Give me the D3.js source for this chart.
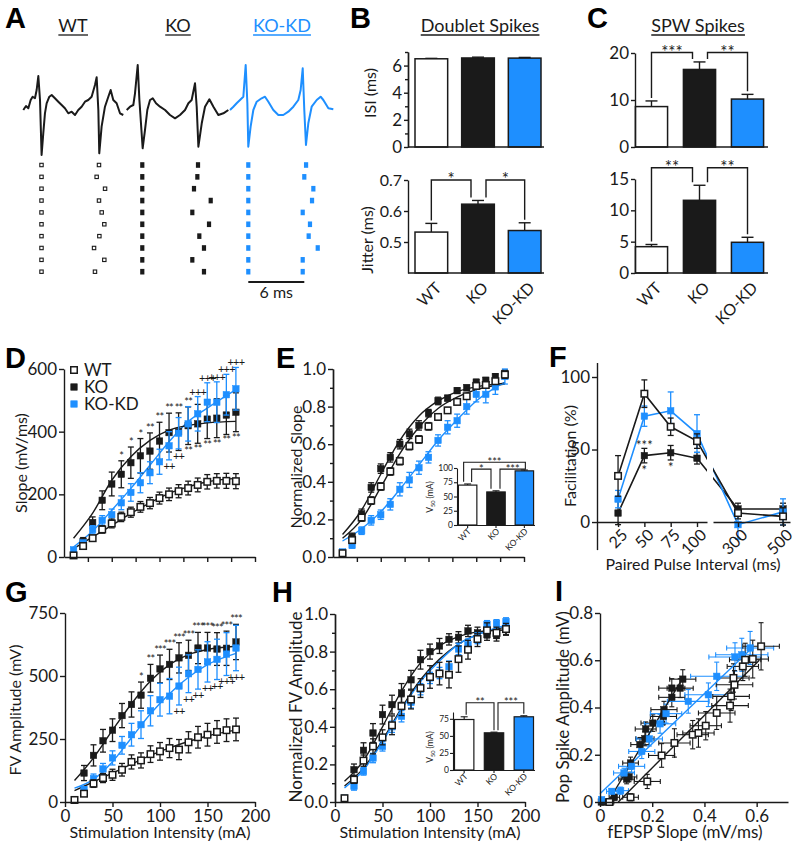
<!DOCTYPE html>
<html><head><meta charset="utf-8">
<script src="https://d3js.org/d3.v7.min.js"></script>
<style>html,body{margin:0;padding:0;background:#fff;}svg{display:block;}</style>
</head><body>
<script>
// ================= DATA =================
const groups = ["WT", "KO", "KO-KD"];

// Panel A: example traces (time ms, voltage a.u.)
const traceWTt = [0,0.29,0.54,0.79,1.0,1.25,1.43,1.61,1.79,1.96,2.14,2.32,2.5,2.79,3.04,3.39,3.75,4.11,4.46,4.82,5.18,5.54,5.89,6.25,6.61,6.96,7.32,7.68,7.86,8.04,8.14,8.39,8.75,9.11,9.36,9.64,10.0,10.36,10.71];
const traceWTv = [0,0.4,0.17,1.0,1.33,1.17,2.0,3.4,1.0,-4.5,-2.33,-0.33,0.67,1.33,1.5,1.17,0.83,0.5,0.17,-0.33,-0.17,-0.5,0,0.33,0.83,1.0,1.33,2.5,3.27,0,-4.33,-1.67,0.33,1.33,2.0,1.0,0.67,-0.33,-0.5];
const traceKOt = [0,0.36,0.71,0.89,1.18,1.36,1.71,1.96,2.21,2.5,2.79,3.14,3.57,4.11,4.64,5.18,5.71,6.25,6.61,6.96,7.32,7.5,7.68,8.04,8.39,8.86,9.29,9.82,10.36,10.89];
const traceKOv = [0,0.33,0.5,1.67,4.5,1.0,-3.83,-2.0,0,1.0,1.17,0.67,0.33,0,-0.5,-0.83,-0.5,0,0.67,1.0,2.67,0.33,-3.67,-1.33,0.33,1.07,0.33,-0.5,-0.33,0];
const traceKDt = [0,0.36,0.71,1.07,1.43,1.68,1.86,1.96,2.21,2.5,2.86,3.39,3.75,4.11,4.64,5.18,5.71,6.25,6.79,7.32,7.57,7.79,7.96,8.14,8.39,8.75,9.29,9.71,10.0,10.54,11.07];
const traceKDv = [0,0.33,0.67,1.0,1.33,4.5,0.67,-3.67,-1.67,0,0.83,1.17,1.33,0.83,0,-0.5,-0.5,-0.17,0.33,1.0,2.0,4.17,0,-3.5,-1.33,0.33,1.0,1.33,1.0,0.17,0.07];
const rasterRows = [1,2,3,4,5,6,7,8,9,10];
const rasterWTfirst = [1.95,1.95,1.95,1.95,1.95,1.95,1.95,1.95,1.95,1.95];
const rasterWTsecond = [8.11,7.86,8.76,8.11,8.4,8.68,8.15,7.58,8.68,7.68];
const rasterKOfirst = [1.67,1.67,1.67,1.67,1.67,1.67,1.67,1.67,1.67,1.67];
const rasterKOsecond = [7.64,7.57,7.21,9.0,7.03,8.82,7.78,8.28,7.03,8.28];
const rasterKDfirst = [1.96,1.96,1.96,1.96,1.96,1.96,1.96,1.96,1.96,1.96];
const rasterKDsecond = [8.15,7.96,8.93,8.79,7.79,8.57,8.43,9.4,7.79,7.79];
const scaleBarMs = 6;

// Panel B
const isiMean = [6.5, 6.56, 6.55];
const isiErr = [0.03, 0.06, 0.05];
const jitterMean = [0.532, 0.622, 0.537];
const jitterErr = [0.028, 0.012, 0.025];
const jitterSig = ["*", "*"];
// Panel C
const spwTopMean = [8.6, 16.5, 10.2];
const spwTopErr = [1.2, 1.6, 1.0];
const spwTopSig = ["***", "**"];
const spwBotMean = [4.2, 11.6, 4.9];
const spwBotErr = [0.35, 2.4, 0.8];
const spwBotSig = ["**", "**"];

// Stimulation series (D, E, G, H)
const stim = [10,20,30,40,50,60,70,80,90,100,110,120,130,140,150,160,170,180];
const fitStim = [10,30,50,70,90,110,130,150,180];

const slopeWT = [5,35,60,88,107,128,143,160,172,188,200,210,220,230,240,243,243,242];
const slopeWTerr = [5,8,10,12,14,15,16,17,18,19,20,21,22,22,23,23,24,24];
const slopeKO = [5,50,110,181,233,264,301,323,338,370,397,400,419,425,440,443,453,462];
const slopeKOerr = [4,12,18,30,38,43,50,55,58,60,62,60,60,62,62,62,62,62];
const slopeKD = [23,45,88,117,135,173,206,237,269,304,355,395,425,457,494,494,518,537];
const slopeKDerr = [6,8,12,15,18,22,28,32,35,40,45,50,55,55,62,65,65,68];
const fitSlopeWT = [27,64,101,139,173,203,224,240,251];
const fitSlopeKO = [60,140,245,320,372,405,420,428,433];
const fitSlopeKD = [32,83,149,219,293,368,432,475,534];
const sigSlopeTop = ["","","","","","*","*","*","**","**","**","**","**","+++","+++","+++","+++","+++"];
const sigSlopeBot = ["","","","","","","","","","","++","++","**","**","**","**","**","**"];

const normWT = [0.02,0.09,0.21,0.3,0.375,0.455,0.51,0.59,0.625,0.695,0.745,0.78,0.825,0.855,0.91,0.915,0.935,0.97];
const normWTerr = [0.01,0.015,0.02,0.02,0.02,0.02,0.02,0.02,0.02,0.02,0.015,0.015,0.015,0.015,0.015,0.015,0.015,0.02];
const normKO = [0.014,0.107,0.23,0.37,0.47,0.53,0.6,0.655,0.7,0.765,0.83,0.845,0.885,0.9,0.93,0.94,0.96,0.975];
const normKOerr = [0.01,0.02,0.025,0.025,0.025,0.025,0.025,0.025,0.025,0.02,0.02,0.015,0.015,0.015,0.015,0.015,0.015,0.02];
const normKD = [0.027,0.062,0.14,0.195,0.225,0.28,0.36,0.41,0.475,0.53,0.62,0.69,0.725,0.8,0.865,0.865,0.905,0.96];
const normKDerr = [0.01,0.015,0.02,0.025,0.025,0.03,0.035,0.04,0.035,0.03,0.03,0.035,0.035,0.04,0.04,0.045,0.04,0.04];
const fitNormWT = [0.10,0.20,0.37,0.55,0.69,0.79,0.85,0.89,0.92];
const fitNormKO = [0.12,0.25,0.44,0.62,0.75,0.83,0.88,0.905,0.925];
const fitNormKD = [0.085,0.15,0.24,0.36,0.49,0.62,0.73,0.83,0.93];
const v50SlopeMean = [70, 58, 95];
const v50SlopeErr = [2, 2, 1.5];

const fvWT = [8,33,73,95,108,128,159,165,190,201,214,208,237,257,267,278,285,288];
const fvWTerr = [5,10,15,18,22,25,28,30,33,35,38,40,42,43,45,45,45,45];
const fvKO = [10,115,185,243,285,343,387,424,491,528,546,572,582,611,611,607,610,635];
const fvKOerr = [5,30,42,45,45,48,50,52,55,55,60,60,60,62,62,65,68,70];
const fvKD = [9,49,93,131,175,225,267,307,362,406,420,460,509,526,556,566,587,611];
const fvKDerr = [5,12,18,22,28,35,45,55,60,65,70,75,75,78,80,80,85,90];
const fitFvWT = [45,80,115,150,185,215,240,262,285];
const fitFvKO = [85,175,285,390,480,545,585,605,618];
const fitFvKD = [55,90,160,255,350,430,495,545,590];
const sigFvTop = ["","","","","","","","*","**","***","***","***","***","***","***","***","***","***"];
const sigFvBot = ["","","","","","","","","","","","++","++","++","++","++","+++","+++"];

const nfvWT = [0.02,0.119,0.22,0.296,0.344,0.408,0.51,0.545,0.606,0.665,0.683,0.677,0.76,0.81,0.867,0.913,0.9,0.92];
const nfvWTerr = [0.01,0.02,0.03,0.04,0.04,0.05,0.05,0.05,0.05,0.06,0.06,0.07,0.07,0.05,0.04,0.04,0.03,0.03];
const nfvKO = [0.02,0.172,0.275,0.367,0.465,0.518,0.58,0.65,0.757,0.8,0.83,0.865,0.876,0.91,0.9,0.89,0.886,0.917];
const nfvKOerr = [0.01,0.03,0.04,0.05,0.05,0.05,0.05,0.05,0.05,0.04,0.04,0.03,0.03,0.03,0.03,0.03,0.03,0.03];
const nfvKD = [0.02,0.083,0.163,0.234,0.296,0.4,0.456,0.53,0.6,0.66,0.686,0.72,0.814,0.837,0.872,0.945,0.95,0.96];
const nfvKDerr = [0.01,0.02,0.02,0.025,0.025,0.03,0.03,0.03,0.03,0.03,0.03,0.03,0.03,0.03,0.03,0.02,0.02,0.02];
const fitNfvWT = [0.085,0.18,0.33,0.5,0.65,0.76,0.84,0.89,0.93];
const fitNfvKO = [0.11,0.22,0.40,0.59,0.74,0.83,0.88,0.905,0.915];
const fitNfvKD = [0.075,0.17,0.32,0.49,0.64,0.75,0.84,0.89,0.94];
const v50FvMean = [74, 54.5, 78];
const v50FvErr = [4, 1, 1.5];

// Panel F
const ppi = [25, 50, 75, 100, 300, 500];
const facWT = [31.8, 88.5, 65.7, 55.8, 6.2, 3.9];
const facWTerr = [14, 9.5, 6, 5, 4, 6];
const facKO = [6.2, 45.8, 47.8, 44, 9, 9];
const facKOerr = [8, 5, 5, 4, 4, 4];
const facKD = [15.8, 73, 76.7, 61, -1.8, 7];
const facKDerr = [6, 7, 13, 13, 10, 9];
const facSigX = [50, 50, 75];
const facSigText = ["***", "*", "*"];
const facSigSide = ["above", "below", "below"];

// Panel I
const ioKOx = [0.005,0.019,0.038,0.055,0.102,0.111,0.117,0.153,0.172,0.175,0.202,0.243,0.245,0.275,0.275,0.307,0.317];
const ioKOy = [0,0,0,0.02,0.097,0.106,0.165,0.243,0.268,0.309,0.334,0.362,0.391,0.443,0.482,0.482,0.52];
const ioKOxe = [0.01,0.01,0.015,0.02,0.03,0.03,0.03,0.035,0.035,0.04,0.045,0.05,0.05,0.05,0.05,0.05,0.05];
const ioKOye = [0.005,0.005,0.008,0.012,0.02,0.02,0.025,0.03,0.03,0.03,0.035,0.035,0.035,0.04,0.04,0.04,0.04];
const ioWTx = [0.036,0.117,0.181,0.236,0.285,0.355,0.377,0.405,0.447,0.498,0.502,0.515,0.511,0.547,0.556,0.585,0.617];
const ioWTy = [0,0.02,0.087,0.197,0.25,0.285,0.292,0.323,0.377,0.408,0.447,0.496,0.525,0.574,0.602,0.605,0.659];
const ioWTxe = [0.01,0.03,0.05,0.05,0.06,0.06,0.06,0.06,0.07,0.07,0.07,0.07,0.06,0.06,0.06,0.06,0.07];
const ioWTye = [0.005,0.015,0.03,0.05,0.06,0.06,0.06,0.06,0.07,0.07,0.06,0.06,0.06,0.06,0.07,0.08,0.1];
const ioKDx = [0.006,0.045,0.079,0.092,0.121,0.16,0.189,0.23,0.253,0.338,0.415,0.447,0.517,0.543,0.575];
const ioKDy = [0.01,0.045,0.048,0.123,0.151,0.214,0.267,0.331,0.374,0.426,0.454,0.532,0.614,0.623,0.652];
const ioKDxe = [0.01,0.02,0.03,0.04,0.05,0.05,0.05,0.06,0.06,0.08,0.09,0.1,0.1,0.1,0.09];
const ioKDye = [0.005,0.01,0.015,0.02,0.025,0.03,0.03,0.04,0.04,0.05,0.05,0.06,0.06,0.07,0.07];
const ioFitKOx = [0.03, 0.32]; const ioFitKOy = [0, 0.53];
const ioFitWTx = [0.07, 0.61]; const ioFitWTy = [0, 0.6];
const ioFitKDx = [0, 0.58];    const ioFitKDy = [0.035, 0.65];

// ================= DRAWING =================
const FONT = "Lato, 'Open Sans', 'DejaVu Sans', sans-serif";
const BOLD = "'Liberation Sans', Arial, sans-serif";
const INK = "#1a1a1a", BLUE = "#1e8fff";
const svg = d3.select("body").append("svg").attr("width", 800).attr("height", 847);
svg.append("rect").attr("width", 800).attr("height", 847).attr("fill", "#fff");

function txt(x, y, s, o = {}) {
  const t = svg.append("text").attr("x", x).attr("y", y)
    .attr("font-family", o.ff || FONT).attr("font-size", o.fs || 16)
    .attr("font-weight", o.fw || 400).attr("text-anchor", o.a || "middle")
    .attr("fill", o.fill || INK).text(s);
  if (o.ls !== undefined) t.attr("letter-spacing", o.ls);
  if (o.rot !== undefined) t.attr("transform", `rotate(${o.rot},${x},${y})`);
  return t;
}
function underline(t, y, color) {
  const bb = t.node().getBBox();
  svg.append("line").attr("x1", bb.x).attr("x2", bb.x + bb.width).attr("y1", y).attr("y2", y)
    .attr("stroke", color).attr("stroke-width", 1.3);
}
function sty(g, fs) {
  g.attr("font-family", FONT).attr("font-size", fs);
  g.select(".domain").attr("stroke", INK).attr("stroke-width", 1.4);
  g.selectAll(".tick line").attr("stroke", INK).attr("stroke-width", 1.4);
  g.selectAll(".tick text").attr("fill", INK);
  return g;
}
function axL(x0, sc, vals, fmt, o = {}) {
  const g = svg.append("g").attr("transform", `translate(${x0},0)`)
    .call(d3.axisLeft(sc).tickValues(vals).tickFormat(fmt).tickSize(o.ts || 5).tickSizeOuter(0).tickPadding(o.tp === undefined ? 2 : o.tp));
  sty(g, o.fs || 16);
  if (o.minor) {
    const m = svg.append("g").attr("transform", `translate(${x0},0)`)
      .call(d3.axisLeft(sc).tickValues(o.minor).tickFormat("").tickSize(o.mts || 3).tickSizeOuter(0));
    sty(m, 10);
  }
  return g;
}
function axB(y0, sc, vals, fmt, o = {}) {
  const g = svg.append("g").attr("transform", `translate(0,${y0})`)
    .call(d3.axisBottom(sc).tickValues(vals).tickFormat(fmt).tickSize(o.ts || 5).tickSizeOuter(0).tickPadding(o.tp === undefined ? 3 : o.tp));
  sty(g, o.fs || 16);
  return g;
}
function errV(cx, y1, y2, color, cap, w) {
  svg.append("line").attr("x1", cx).attr("x2", cx).attr("y1", y1).attr("y2", y2).attr("stroke", color).attr("stroke-width", w || 1.3);
  [y1, y2].forEach(yy => svg.append("line").attr("x1", cx - cap / 2).attr("x2", cx + cap / 2).attr("y1", yy).attr("y2", yy).attr("stroke", color).attr("stroke-width", w || 1.3));
}
function errH(cy, x1, x2, color, cap, w) {
  svg.append("line").attr("x1", x1).attr("x2", x2).attr("y1", cy).attr("y2", cy).attr("stroke", color).attr("stroke-width", w || 1.2);
  [x1, x2].forEach(xx => svg.append("line").attr("x1", xx).attr("x2", xx).attr("y1", cy - cap / 2).attr("y2", cy + cap / 2).attr("stroke", color).attr("stroke-width", w || 1.2));
}
function marker(cx, cy, open, color, s) {
  svg.append("rect").attr("x", cx - s / 2).attr("y", cy - s / 2).attr("width", s).attr("height", s)
    .attr("fill", open ? "#fff" : color).attr("stroke", open ? INK : color).attr("stroke-width", open ? 1.5 : 0.5);
}
function panelLetter(x, y, s) { txt(x, y, s, { ff: BOLD, fs: 29, fw: 700, a: "start", fill: "#000" }); }

// ---------- Panel A ----------
panelLetter(5, 28, "A");
const tS = d3.scaleLinear().domain([0, scaleBarMs]).range([0, 56]);
const vS = d3.scaleLinear().domain([-5, 5]).range([160, 60]);
const rowS = d3.scalePoint().domain(rasterRows).range([165, 271.7]);
const traceSets = [
  { name: "WT", x0: 23.3, t: traceWTt, v: traceWTv, c: INK, r1: rasterWTfirst, r2: rasterWTsecond, hx: 73 },
  { name: "KO", x0: 126.7, t: traceKOt, v: traceKOv, c: INK, r1: rasterKOfirst, r2: rasterKOsecond, hx: 178 },
  { name: "KO-KD", x0: 230, t: traceKDt, v: traceKDv, c: BLUE, r1: rasterKDfirst, r2: rasterKDsecond, hx: 282 }
];
traceSets.forEach((tr, k) => {
  const hdr = txt(tr.hx, 32, tr.name, { fs: 18, fill: k === 2 ? BLUE : INK });
  underline(hdr, 35, k === 2 ? BLUE : INK);
  const line = d3.line().x(d => tr.x0 + tS(d[0])).y(d => vS(d[1]));
  svg.append("path").datum(d3.zip(tr.t, tr.v)).attr("d", line).attr("fill", "none")
    .attr("stroke", tr.c).attr("stroke-width", 2).attr("stroke-linejoin", "round");
  rasterRows.forEach((r, i) => {
    [tr.r1[i], tr.r2[i]].forEach(tt => {
      const cx = tr.x0 + tS(tt), cy = rowS(r);
      if (k === 0) {
        svg.append("rect").attr("x", cx - 1.7).attr("y", cy - 1.7).attr("width", 3.4).attr("height", 3.4)
          .attr("fill", "#fff").attr("stroke", INK).attr("stroke-width", 1.1);
      } else {
        svg.append("rect").attr("x", cx - 2.1).attr("y", cy - 2.8).attr("width", 4.2).attr("height", 5.6)
          .attr("fill", tr.c);
      }
    });
  });
});
// scale bar
{
  const x0 = 230 + tS(rasterKDfirst[0]);
  svg.append("line").attr("x1", x0).attr("x2", x0 + tS(scaleBarMs)).attr("y1", 282).attr("y2", 282)
    .attr("stroke", INK).attr("stroke-width", 2);
  txt(x0 + tS(scaleBarMs) / 2, 298, scaleBarMs + " ms", { fs: 16 });
}

// ---------- Bar panels (B, C) ----------
function barPanel(o) {
  const fills = ["#fff", INK, BLUE];
  const y0 = o.y(o.base);
  groups.forEach((gn, i) => {
    const bx = o.x(gn), bw = o.x.bandwidth(), cx = bx + bw / 2;
    const yv = o.y(o.mean[i]), ye = o.y(o.mean[i] + o.err[i]);
    svg.append("line").attr("x1", cx).attr("x2", cx).attr("y1", yv).attr("y2", ye).attr("stroke", INK).attr("stroke-width", 1.4);
    svg.append("line").attr("x1", cx - o.cap / 2).attr("x2", cx + o.cap / 2).attr("y1", ye).attr("y2", ye).attr("stroke", INK).attr("stroke-width", 1.4);
    svg.append("rect").attr("x", bx).attr("y", yv).attr("width", bw).attr("height", y0 - yv)
      .attr("fill", fills[i]).attr("stroke", INK).attr("stroke-width", o.sw || 1.5);
  });
  svg.append("line").attr("x1", o.ax).attr("x2", o.axEnd).attr("y1", y0).attr("y2", y0).attr("stroke", INK).attr("stroke-width", 1.4);
  if (o.sig) {
    const c = gn => o.x(gn) + o.x.bandwidth() / 2;
    const yTop = o.y(o.sigLevel);
    const legY = i => o.y(o.mean[i] + o.err[i]) - 3;
    const pairs = [[0, 1, 0, -7], [1, 2, 8, 0]];
    pairs.forEach((p, k) => {
      const xa = c(groups[p[0]]) + p[2], xb = c(groups[p[1]]) + p[3];
      svg.append("path").attr("d", `M${xa},${legY(p[0])}V${yTop}H${xb}V${legY(p[1])}`)
        .attr("fill", "none").attr("stroke", INK).attr("stroke-width", 1.4);
      txt((xa + xb) / 2, yTop + 5, o.sig[k], { fs: 17 });
    });
  }
  if (o.labels) {
    groups.forEach(gn => {
      const cx = o.x(gn) + o.x.bandwidth() / 2;
      txt(cx + 11, 289, gn, { fs: 16, a: "end", rot: -45 });
    });
  }
}
panelLetter(350, 28, "B");
panelLetter(587, 28, "C");
underline(txt(480, 32, "Doublet Spikes", { fs: 18 }), 35, INK);
underline(txt(698, 32, "SPW Spikes", { fs: 18 }), 35, INK);

const xB = d3.scaleBand().domain(groups).range([408, 548]).paddingInner(0.3).paddingOuter(0.15);
const yBtop = d3.scaleLinear().domain([0, 7]).range([147, 52]);
barPanel({ x: xB, y: yBtop, mean: isiMean, err: isiErr, base: 0, ax: 408, axEnd: 544, cap: 12 });
axL(408, yBtop, [0, 2, 4, 6], d3.format("d"), { fs: 17, ts: 4 , minor: [1, 3, 5, 7] });
txt(376, 93, "ISI (ms)", { fs: 16, rot: -90 });

const yBbot = d3.scaleLinear().domain([0.4, 0.7]).range([273, 180]);
barPanel({ x: xB, y: yBbot, mean: jitterMean, err: jitterErr, base: 0.4, ax: 408, axEnd: 544, cap: 12,
  sig: jitterSig, sigLevel: 0.7, labels: true });
axL(408, yBbot, [0.5, 0.6, 0.7], d3.format(".1f"), { fs: 16, ts: 4 });
txt(373, 240, "Jitter (ms)", { fs: 16, rot: -90 });

const xC = d3.scaleBand().domain(groups).range([633, 766]).paddingInner(0.33).paddingOuter(0.05);
const yCtop = d3.scaleLinear().domain([0, 20]).range([147, 53]);
barPanel({ x: xC, y: yCtop, mean: spwTopMean, err: spwTopErr, base: 0, ax: 635, axEnd: 768, cap: 12,
  sig: spwTopSig, sigLevel: 20.1 });
axL(635, yCtop, [0, 10, 20], d3.format("d"), { fs: 17, ts: 4 });

const yCbot = d3.scaleLinear().domain([0, 15]).range([273, 179]);
barPanel({ x: xC, y: yCbot, mean: spwBotMean, err: spwBotErr, base: 0, ax: 635, axEnd: 768, cap: 12,
  sig: spwBotSig, sigLevel: 16.8, labels: true });
axL(635, yCbot, [0, 5, 10, 15], d3.format("d"), { fs: 17, ts: 4 });

// ---------- XY stimulation panels ----------
function xyPanel(o) {
  const line = d3.line().curve(d3.curveMonotoneX).x(d => o.x(d[0])).y(d => o.y(d[1]));
  o.fits.forEach(f => svg.append("path").datum(d3.zip(fitStim, f.v)).attr("d", line)
    .attr("fill", "none").attr("stroke", f.c).attr("stroke-width", 1.4));
  o.series.forEach(s => {
    stim.forEach((xv, i) => {
      errV(o.x(xv), o.y(s.v[i] + s.e[i]), o.y(s.v[i] - s.e[i]), s.c, 6, 1.3);
    });
    stim.forEach((xv, i) => marker(o.x(xv), o.y(s.v[i]), s.open, s.c, 6.5));
  });
  if (o.sigTop) stim.forEach((xv, i) => {
    if (!o.sigTop[i]) return;
    const top = d3.max(o.series, s => s.v[i] + s.e[i]);
    txt(o.x(xv), o.y(top) - 1, o.sigTop[i], { fs: 11, ls: -0.8 });
  });
  if (o.sigBot) stim.forEach((xv, i) => {
    if (!o.sigBot[i]) return;
    const bot = d3.min(o.series.filter(s => !s.open), s => s.v[i] - s.e[i]);
    txt(o.x(xv), o.y(bot) + 10, o.sigBot[i], { fs: 11, ls: -0.8 });
  });
}
const stimTicks = [25, 50, 75, 100, 125, 150, 175, 200];

// D
panelLetter(5, 368, "D");
const xD = d3.scaleLinear().domain([0, 200]).range([64, 255]);
const yD = d3.scaleLinear().domain([0, 600]).range([557, 369]);
xyPanel({ x: xD, y: yD,
  fits: [{ v: fitSlopeWT, c: INK }, { v: fitSlopeKD, c: BLUE }, { v: fitSlopeKO, c: INK }],
  series: [{ v: slopeKO, e: slopeKOerr, c: INK }, { v: slopeKD, e: slopeKDerr, c: BLUE }, { v: slopeWT, e: slopeWTerr, c: INK, open: true }],
  sigTop: sigSlopeTop, sigBot: sigSlopeBot });
axL(64, yD, [0, 200, 400, 600], d3.format("d"), { fs: 17 });
axB(557, xD, stimTicks, "");
txt(27, 463, "Slope (mV/ms)", { fs: 16, rot: -90 });
// legend
[["WT", true, INK], ["KO", false, INK], ["KO-KD", false, BLUE]].forEach((l, i) => {
  const yy = 370 + i * 17;
  marker(74, yy, l[1], l[2], 6.5);
  txt(84, yy + 6, l[0], { fs: 17, a: "start" });
});

// E
panelLetter(276, 368, "E");
const xE = d3.scaleLinear().domain([0, 200]).range([333, 524]);
const yE = d3.scaleLinear().domain([0, 1]).range([557, 369]);
xyPanel({ x: xE, y: yE,
  fits: [{ v: fitNormWT, c: INK }, { v: fitNormKD, c: BLUE }, { v: fitNormKO, c: INK }],
  series: [{ v: normKO, e: normKOerr, c: INK }, { v: normKD, e: normKDerr, c: BLUE }, { v: normWT, e: normWTerr, c: INK, open: true }] });
axL(333, yE, [0, 0.2, 0.4, 0.6, 0.8, 1.0], d3.format(".1f"), { fs: 17, minor: [0.1, 0.3, 0.5, 0.7, 0.9] });
axB(557, xE, stimTicks, "");
txt(302, 467, "Normalized Slope", { fs: 16, rot: -90 });

// G
panelLetter(5, 602, "G");
const xG = d3.scaleLinear().domain([0, 200]).range([65, 255]);
const yG = d3.scaleLinear().domain([0, 750]).range([802, 613]);
xyPanel({ x: xG, y: yG,
  fits: [{ v: fitFvWT, c: INK }, { v: fitFvKD, c: BLUE }, { v: fitFvKO, c: INK }],
  series: [{ v: fvKO, e: fvKOerr, c: INK }, { v: fvKD, e: fvKDerr, c: BLUE }, { v: fvWT, e: fvWTerr, c: INK, open: true }],
  sigTop: sigFvTop, sigBot: sigFvBot });
axL(65, yG, [0, 250, 500, 750], d3.format("d"), { fs: 17 });
axB(802, xG, [0, 50, 100, 150, 200], d3.format("d"), { fs: 17 });
txt(21, 710, "FV Amplitude (mV)", { fs: 16, rot: -90 });
txt(160, 838, "Stimulation Intensity (mA)", { fs: 16 });

// H
panelLetter(272, 602, "H");
const xH = d3.scaleLinear().domain([0, 200]).range([335, 525]);
const yH = d3.scaleLinear().domain([0, 1]).range([802, 614]);
xyPanel({ x: xH, y: yH,
  fits: [{ v: fitNfvWT, c: INK }, { v: fitNfvKD, c: BLUE }, { v: fitNfvKO, c: INK }],
  series: [{ v: nfvKO, e: nfvKOerr, c: INK }, { v: nfvKD, e: nfvKDerr, c: BLUE }, { v: nfvWT, e: nfvWTerr, c: INK, open: true }] });
axL(335, yH, [0, 0.2, 0.4, 0.6, 0.8, 1.0], d3.format(".1f"), { fs: 17, minor: [0.1, 0.3, 0.5, 0.7, 0.9] });
axB(802, xH, [0, 50, 100, 150, 200], d3.format("d"), { fs: 17 });
txt(302, 707, "Normalized FV Amplitude", { fs: 17, rot: -90 });
txt(430, 838, "Stimulation Intensity (mA)", { fs: 16 });

// ---------- Insets ----------
function inset(o) {
  const fills = ["#fff", INK, BLUE];
  const y0 = o.y(0);
  groups.forEach((gn, i) => {
    const bx = o.x(gn), bw = o.x.bandwidth(), cx = bx + bw / 2;
    const yv = o.y(o.mean[i]), ye = o.y(o.mean[i] + o.err[i]);
    svg.append("line").attr("x1", cx).attr("x2", cx).attr("y1", yv).attr("y2", ye).attr("stroke", INK).attr("stroke-width", 1.1);
    svg.append("line").attr("x1", cx - 3.5).attr("x2", cx + 3.5).attr("y1", ye).attr("y2", ye).attr("stroke", INK).attr("stroke-width", 1.1);
    svg.append("rect").attr("x", bx).attr("y", yv).attr("width", bw).attr("height", y0 - yv)
      .attr("fill", fills[i]).attr("stroke", INK).attr("stroke-width", 1.2);
  });
  const ga = axL(o.ax, o.y, o.ticks, d3.format("d"), { fs: 8.5, ts: 3, tp: 1 });
  ga.selectAll(".domain,.tick line").attr("stroke-width", 1.1);
  const gb = svg.append("g").attr("transform", `translate(0,${y0})`)
    .call(d3.axisBottom(o.x).tickSize(3).tickSizeOuter(0));
  sty(gb, 8.5);
  gb.select(".domain").attr("d", `M${o.ax},0.5H${o.axEnd}`).attr("stroke-width", 1.1);
  gb.selectAll(".tick line").attr("stroke-width", 1.1);
  gb.selectAll(".tick text").attr("y", 0).attr("dy", 0).attr("text-anchor", "end")
    .attr("transform", "translate(4,7) rotate(-45)");
  const c = i => o.x(groups[i]) + o.x.bandwidth() / 2;
  o.brackets.forEach(b => {
    const xa = c(b.a) + b.oa, xb = c(b.b) + b.ob, yT = o.y(b.level);
    const la = b.la !== undefined ? o.y(b.la) : o.y(o.mean[b.a] + o.err[b.a]) - 2;
    const lb = b.lb !== undefined ? o.y(b.lb) : o.y(o.mean[b.b] + o.err[b.b]) - 2;
    svg.append("path").attr("d", `M${xa},${la}V${yT}H${xb}V${lb}`).attr("fill", "none").attr("stroke", INK).attr("stroke-width", 1.1);
    txt((xa + xb) / 2, yT + 3.5, b.t, { fs: 11 });
  });
  const lab = svg.append("text").attr("transform", `translate(${o.labX},${o.labY}) rotate(-90)`)
    .attr("text-anchor", "middle").attr("font-family", FONT).attr("font-size", 8.5).attr("fill", INK);
  lab.append("tspan").text("V");
  lab.append("tspan").attr("font-size", 5.5).attr("dy", 2).text("50");
  lab.append("tspan").attr("dy", -2).text(" (mA)");
}
inset({ x: d3.scaleBand().domain(groups).range([457, 535]).paddingInner(0.35).paddingOuter(0.05),
  y: d3.scaleLinear().domain([0, 100]).range([525, 468]), mean: v50SlopeMean, err: v50SlopeErr,
  ticks: [0, 25, 50, 75, 100], ax: 457, axEnd: 535, labX: 433, labY: 497,
  brackets: [{ a: 0, b: 2, oa: -4, ob: 1, level: 110, t: "***", la: 76, lb: 100 },
             { a: 0, b: 1, oa: 4, ob: -5, level: 98, t: "*" },
             { a: 1, b: 2, oa: 4, ob: 1, level: 98, t: "***" }] });
inset({ x: d3.scaleBand().domain(groups).range([453, 535]).paddingInner(0.35).paddingOuter(0.05),
  y: d3.scaleLinear().domain([0, 85]).range([770, 712]), mean: v50FvMean, err: v50FvErr,
  ticks: [0, 25, 50, 75], ax: 453, axEnd: 535, labX: 433, labY: 747,
  brackets: [{ a: 0, b: 1, oa: 2, ob: 0, level: 98.5, t: "**" },
             { a: 1, b: 2, oa: 4, ob: 0, level: 98.5, t: "***" }] });

// ---------- Panel F ----------
panelLetter(549, 367, "F");
const fxL = d3.scaleLinear().domain([5, 109.5]).range([597, 707]);
const fxR = d3.scaleLinear().domain([189, 531]).range([713, 790]);
const fx = v => v <= 100 ? fxL(v) : fxR(v);
const fy = d3.scaleLinear().domain([-19, 110]).range([549.6, 362.5]);
{
  const clip = svg.append("clipPath").attr("id", "fclip");
  clip.append("rect").attr("x", 590).attr("y", 340).attr("width", 117).attr("height", 220);
  clip.append("rect").attr("x", 713).attr("y", 340).attr("width", 90).attr("height", 220);
  const fser = [
    { v: facKO, e: facKOerr, c: INK }, { v: facKD, e: facKDerr, c: BLUE }, { v: facWT, e: facWTerr, c: INK, open: true }];
  const line = d3.line().x(d => fx(d[0])).y(d => fy(d[1]));
  fser.forEach(s => svg.append("path").datum(d3.zip(ppi, s.v)).attr("d", line).attr("clip-path", "url(#fclip)")
    .attr("fill", "none").attr("stroke", s.c).attr("stroke-width", 1.6));
  fser.forEach(s => {
    ppi.forEach((p, i) => errV(fx(p), fy(s.v[i] + s.e[i]), fy(s.v[i] - s.e[i]), s.c, 6, 1.3));
    ppi.forEach((p, i) => marker(fx(p), fy(s.v[i]), s.open, s.c, 6.5));
  });
  facSigX.forEach((p, k) => {
    const i = ppi.indexOf(p);
    if (facSigSide[k] === "above") txt(fx(p), fy(facKO[i] + facKOerr[i]) + 2, facSigText[k], { fs: 13 });
    else txt(fx(p), fy(facKO[i] - facKOerr[i]) + 12, facSigText[k], { fs: 13 });
  });
  axL(597, fy, [0, 50, 100], d3.format("d"), { fs: 17 });
  [[fxL, [25, 50, 75, 100]], [fxR, [300, 500]]].forEach(a => {
    const g = axB(fy(0), a[0], a[1], d3.format("d"), { fs: 16 });
    g.selectAll(".tick text").attr("y", 0).attr("dy", 0).attr("text-anchor", "end")
      .attr("transform", "translate(10,14) rotate(-45)");
  });
  txt(576, 456, "Facilitation (%)", { fs: 16, rot: -90 });
  txt(693, 570, "Paired Pulse Interval (ms)", { fs: 16 });
}

// ---------- Panel I ----------
panelLetter(555, 601, "I");
const xI = d3.scaleLinear().domain([0, 0.72]).range([600, 788]);
const yI = d3.scaleLinear().domain([0, 0.8]).range([802, 613]);
{
  const ifmt = d => d === 0 ? "0" : d.toFixed(1);
  const line = d3.line().x(d => xI(d[0])).y(d => yI(d[1]));
  const sets = [
    { x: ioKOx, y: ioKOy, xe: ioKOxe, ye: ioKOye, c: INK, fx: ioFitKOx, fy: ioFitKOy },
    { x: ioKDx, y: ioKDy, xe: ioKDxe, ye: ioKDye, c: BLUE, fx: ioFitKDx, fy: ioFitKDy },
    { x: ioWTx, y: ioWTy, xe: ioWTxe, ye: ioWTye, c: INK, open: true, fx: ioFitWTx, fy: ioFitWTy }];
  sets.forEach(s => {
    s.x.forEach((xv, i) => {
      errH(yI(s.y[i]), xI(Math.max(0, xv - s.xe[i])), xI(xv + s.xe[i]), s.c, 5, 1.1);
      errV(xI(xv), yI(s.y[i] + s.ye[i]), yI(Math.max(0, s.y[i] - s.ye[i])), s.c, 5, 1.1);
    });
  });
  sets.forEach(s => svg.append("path").datum(d3.zip(s.fx, s.fy)).attr("d", line)
    .attr("fill", "none").attr("stroke", s.c).attr("stroke-width", 1.4));
  sets.forEach(s => s.x.forEach((xv, i) => marker(xI(xv), yI(s.y[i]), s.open, s.c, 6.5)));
  axL(600, yI, [0, 0.2, 0.4, 0.6, 0.8], ifmt, { fs: 17 });
  axB(802, xI, [0, 0.2, 0.4, 0.6], ifmt, { fs: 17 });
  txt(569, 707, "Pop Spike Amplitude (mV)", { fs: 17, rot: -90 });
  txt(685, 838, "fEPSP Slope (mV/ms)", { fs: 17 });
}
</script>
</body></html>
